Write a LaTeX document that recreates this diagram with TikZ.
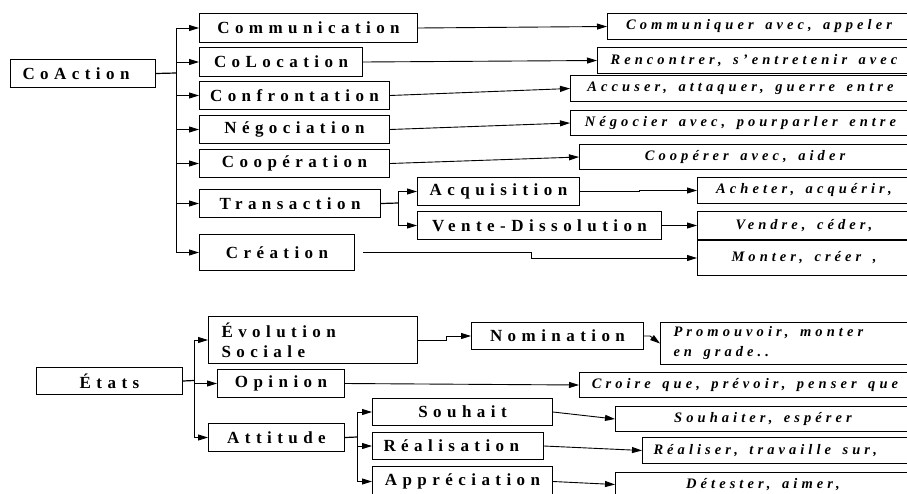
\documentclass[tikz,border=0pt]{standalone}
\usepackage{fontspec}
\setmainfont{Liberation Serif}
\newfontfamily\catfont[LetterSpace=32]{Liberation Serif}
\newfontfamily\verbfont[LetterSpace=28, WordSpace=1.5]{Liberation Serif}
\usetikzlibrary{arrows.meta}

\begin{document}
\begin{tikzpicture}[
        x=1pt, y=-1pt,
        every node/.style={draw, line width=1pt, anchor=north west, inner sep=0pt, align=center},
        cat/.style={font=\catfont\bfseries\fontsize{17}{20}\selectfont},
        verb/.style={font=\verbfont\bfseries\itshape\fontsize{14.5}{20}\selectfont},
        branch/.style={line width=1.2pt},
        flow/.style={-{Triangle[length=10pt, width=6pt]}, line width=0.9pt}
    ]
    \useasboundingbox (0,0) rectangle (907,493);
    \clip (0,0) rectangle (907,493);

    % CoAction
    \node[cat, minimum width=145pt, minimum height=28pt] (coaction) at (10,59) {\makebox[121pt][l]{CoAction}};
    \node[cat, minimum width=218pt, minimum height=29pt] (communication) at (199,13) {Communication};
    \node[cat, minimum width=163pt, minimum height=29pt] (colocation) at (199,47) {CoLocation};
    \node[cat, minimum width=190pt, minimum height=28pt] (confrontation) at (199,81) {Confrontation};
    \node[cat, minimum width=190pt, minimum height=28pt] (negociation) at (199,115) {Négociation};
    \node[cat, minimum width=190pt, minimum height=28pt] (cooperation) at (199,149) {Coopération};
    \node[cat, minimum width=181pt, minimum height=28pt] (transaction) at (199,189) {Transaction};
    \node[cat, minimum width=155pt, minimum height=36pt] (creation) at (199,234) {Création};
    \node[cat, minimum width=162pt, minimum height=28pt] (acquisition) at (417,177) {Acquisition};
    \node[cat, minimum width=244pt, minimum height=28pt] (vente) at (417,211) {Vente-Dissolution};

    \node[verb, minimum width=303pt, minimum height=26pt] (communiquer) at (607,13) {Communiquer avec, appeler};
    \node[verb, minimum width=313pt, minimum height=26pt] (rencontrer) at (597,47) {Rencontrer, s’entretenir avec};
    \node[verb, minimum width=340pt, minimum height=26pt] (accuser) at (570,75) {Accuser, attaquer, guerre entre};
    \node[verb, minimum width=340pt, minimum height=25pt] (negocier) at (570,110) {Négocier avec, pourparler entre};
    \node[verb, minimum width=331pt, minimum height=25pt] (cooperer) at (579,144) {Coopérer avec, aider};
    \node[verb, minimum width=213pt, minimum height=26pt] (acheter) at (697,177) {Acheter, acquérir,};
    \node[verb, minimum width=213pt, minimum height=28pt] (vendre) at (697,211) {Vendre, céder,};
    \node[verb, minimum width=213pt, minimum height=35pt] (monter) at (697,240) {Monter, créer ,};

    \coordinate (coactionfork) at (176,73);
    \draw[branch] (coaction.east) -- (coactionfork);
    \foreach \n in {communication, colocation, confrontation, negociation, cooperation, transaction, creation}
        \draw[flow] (coactionfork) |- (\n.west);
    \coordinate (transactionfork) at (398,203);
    \draw[branch] (transaction.east) -- (transactionfork);
    \foreach \n in {acquisition, vente}
        \draw[flow] (transactionfork) |- (\n.west);
    \draw[flow] (acquisition.east) -- ++(59,0) |- (acheter.west);
    \draw[flow, shorten <=8pt] (creation.east) -- ++(176,0) |- (monter.west);

    % Etats
    \node[cat, minimum width=146pt, minimum height=27pt] (etats) at (36,367) {États};
    \node[cat, minimum width=209pt, minimum height=47pt] (evolution) at (208,316) {\makebox[183pt][l]{Évolution}\\\makebox[183pt][l]{Sociale}};
    \node[cat, minimum width=127pt, minimum height=28pt] (opinion) at (217,369) {Opinion};
    \node[cat, minimum width=136pt, minimum height=28pt] (attitude) at (208,423) {Attitude};
    \node[cat, minimum width=172pt, minimum height=27pt] (nomination) at (471,322) {Nomination};
    \node[cat, minimum width=180pt, minimum height=27pt] (souhait) at (372,398) {Souhait};
    \node[cat, minimum width=171pt, minimum height=27pt] (realisation) at (372,432) {\makebox[149pt][l]{Réalisation}};
    \node[cat, minimum width=180pt, minimum height=30pt] (appreciation) at (372,466) {Appréciation};

    \node[verb, minimum width=250pt, minimum height=42pt] (promouvoir) at (660,322) {\makebox[224pt][l]{Promouvoir, monter}\\\makebox[224pt][l]{en grade..}};
    \node[verb, minimum width=331pt, minimum height=25pt] (croire) at (579,372) {Croire que, prévoir, penser que};
    \node[verb, minimum width=295pt, minimum height=25pt] (souhaiter) at (615,406) {Souhaiter, espérer};
    \node[verb, minimum width=268pt, minimum height=26pt] (realiser) at (642,437) {\makebox[246pt][l]{Réaliser, travaille sur,}};
    \node[verb, minimum width=295pt, minimum height=24pt] (detester) at (615,472) {Détester, aimer,};

    \coordinate (etatsfork) at (194,380.5);
    \draw[branch] (etats.east) -- (etatsfork);
    \foreach \n in {evolution, opinion, attitude}
        \draw[flow] (etatsfork) |- (\n.west);
    \coordinate (attitudefork) at (357,437);
    \draw[branch] (attitude.east) -- (attitudefork);
    \foreach \n in {souhait, realisation, appreciation}
        \draw[flow] (attitudefork) |- (\n.west);
    \draw[flow] (evolution.east) -- ++(28,0) |- (nomination.west);
    \draw[flow] (nomination.east) -- ++(6,0) -- (promouvoir.west);

    % direct links
    \foreach \a/\b in {communication/communiquer, colocation/rencontrer, confrontation/accuser,
        negociation/negocier, cooperation/cooperer, vente/vendre, opinion/croire,
        souhait/souhaiter, realisation/realiser, appreciation/detester}
        \draw[flow] (\a.east) -- (\b.west);

\end{tikzpicture}
\end{document}
